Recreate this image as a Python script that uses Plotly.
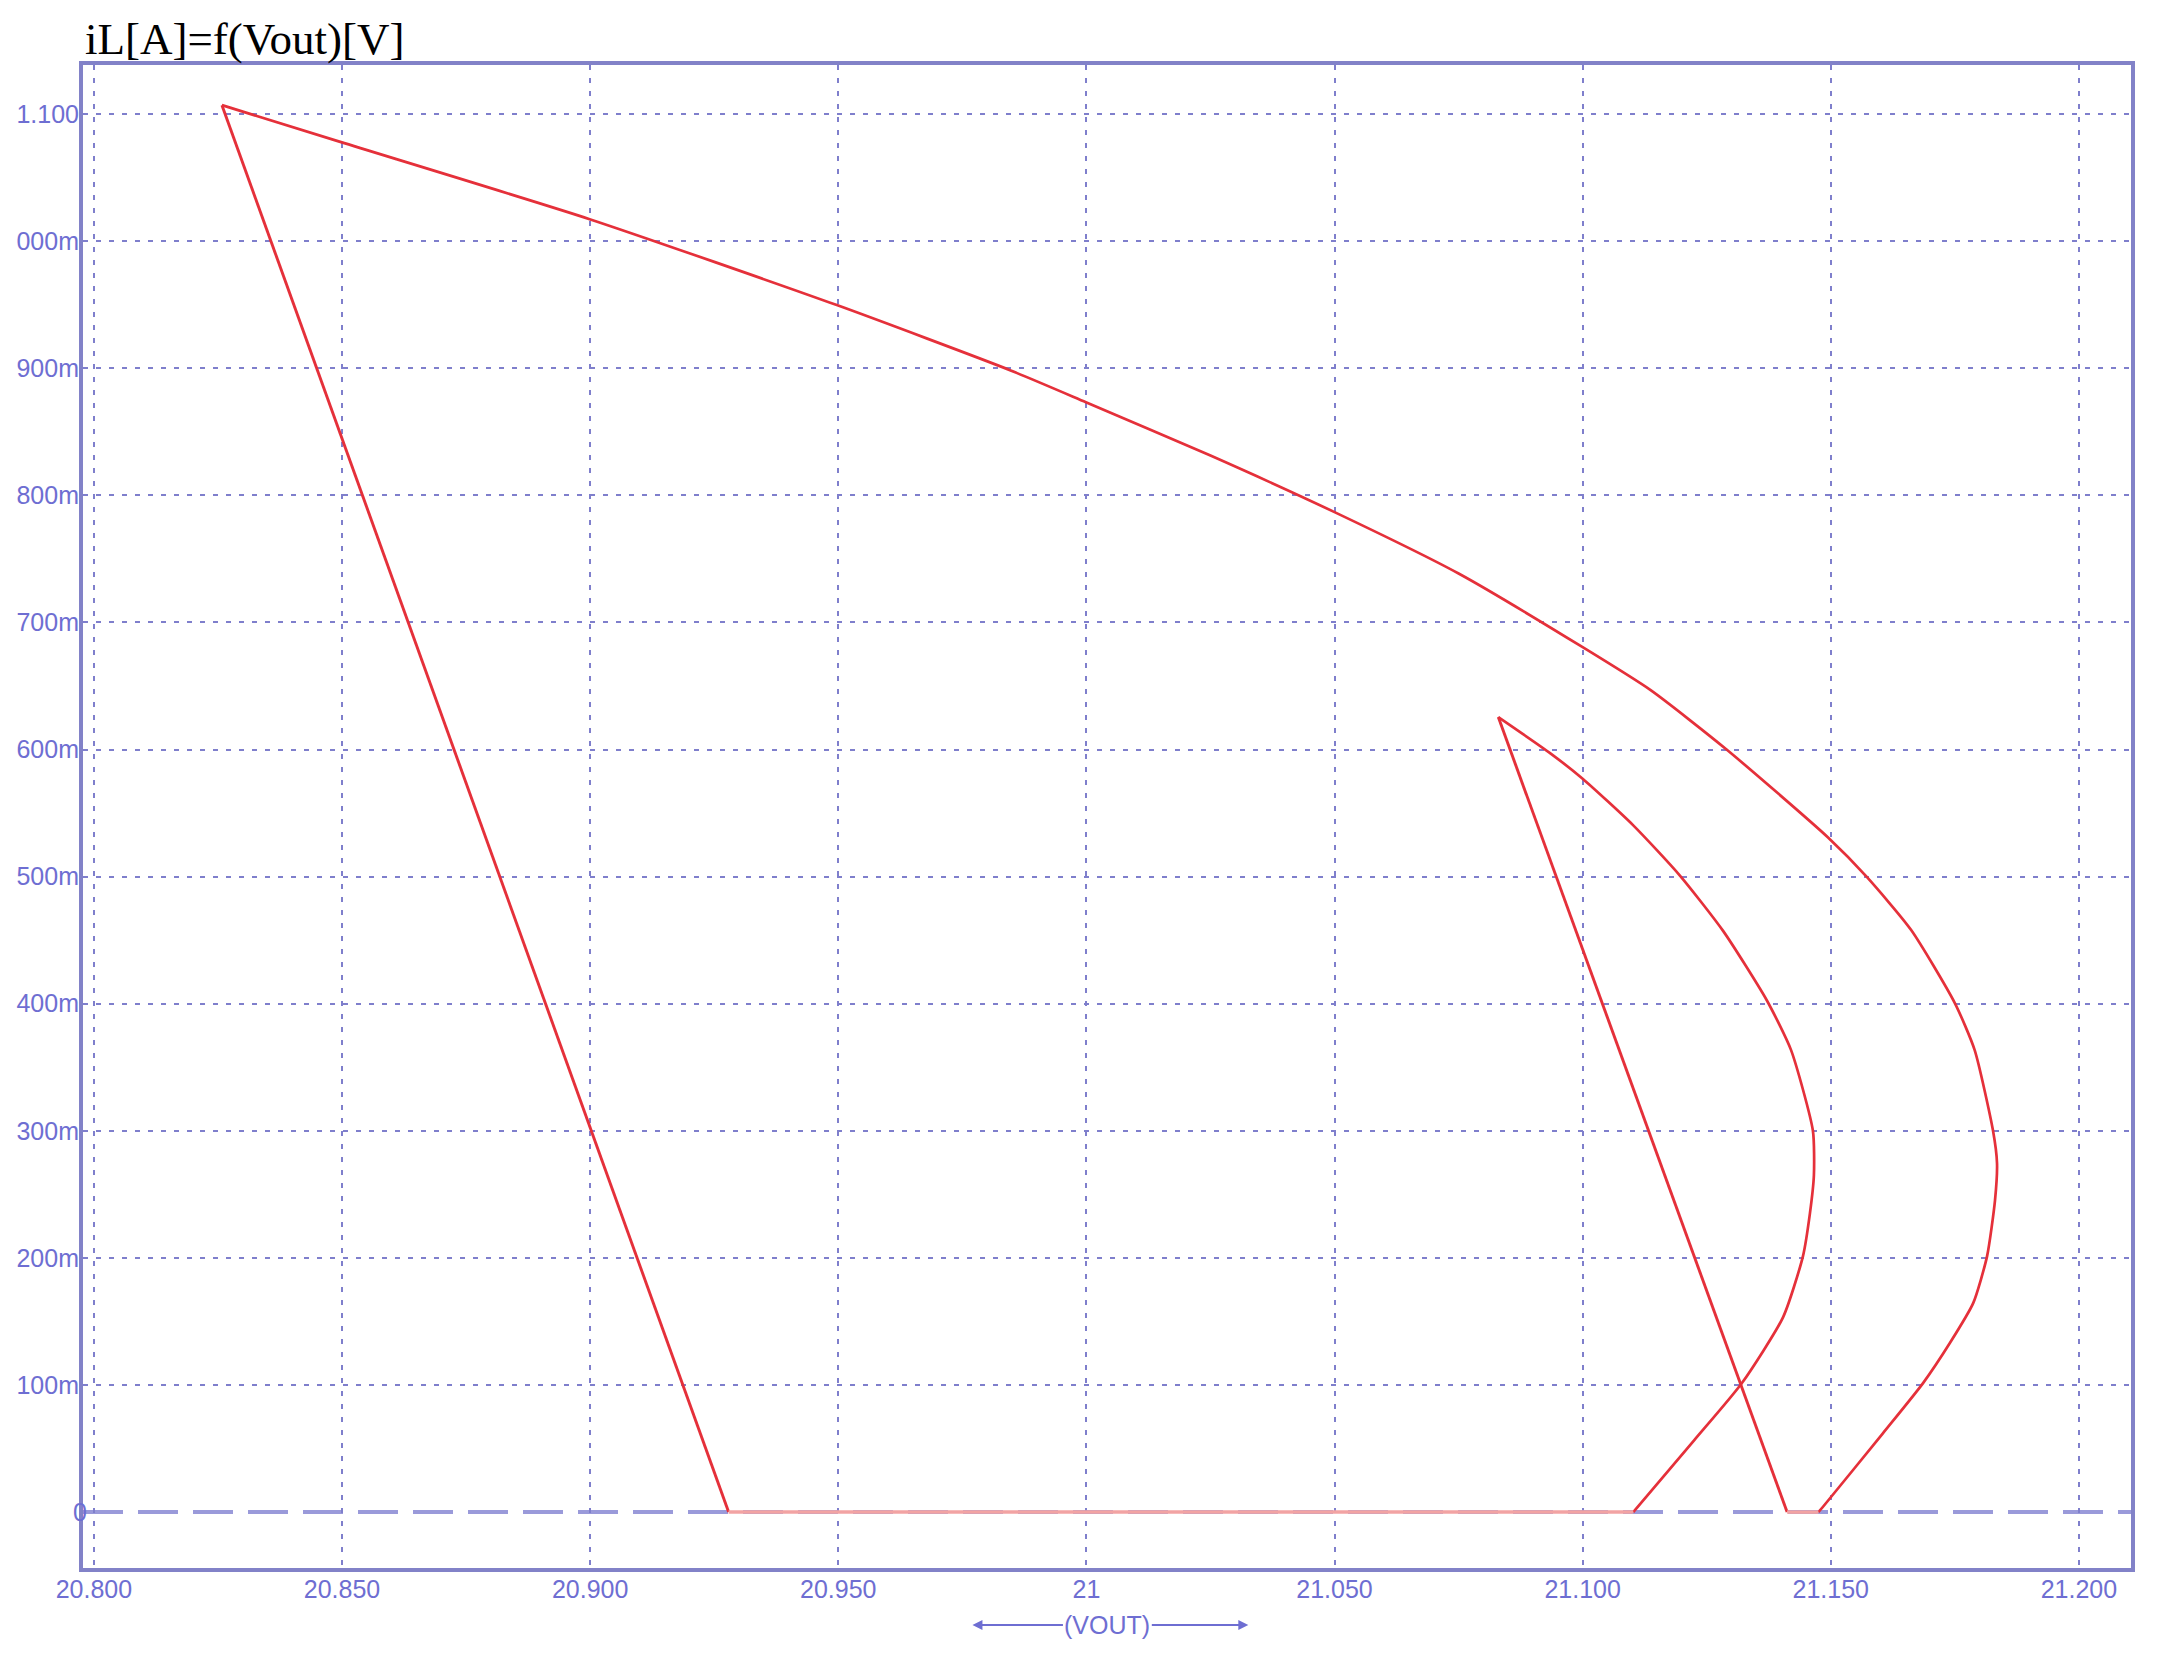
import plotly.graph_objects as go

# Straight current-rise segments (start -> peak)
rise_vout = [20.9279, 20.8258, None, 21.1412, 21.0830]
rise_il = [0.0, 1.107, None, 0.0, 0.6255]

# Outer decaying curve (from big peak down to zero)
outer_vout = [20.8258, 20.8498, 20.8999, 20.9497, 20.9846, 20.9999, 21.0250, 21.0500, 21.0750,
              21.1000, 21.1137, 21.1290, 21.1494, 21.1573, 21.1662, 21.1750, 21.1790, 21.1827,
              21.1835, 21.1831, 21.1815, 21.1787, 21.1740, 21.1686, 21.1605, 21.1484, 21.1475]
outer_il = [1.107, 1.0779, 1.0173, 0.9497, 0.8985, 0.8733, 0.8313, 0.7868, 0.7385,
            0.6805, 0.6467, 0.6000, 0.5310, 0.4996, 0.4580, 0.4005, 0.3635, 0.3000,
            0.2746, 0.2455, 0.2014, 0.1644, 0.1330, 0.1015, 0.0620, 0.0040, 0.0]

# Inner decaying curve (from small peak down to zero)
inner_vout = [21.0830, 21.0935, 21.1000, 21.1102, 21.1196, 21.1283, 21.1371, 21.1420, 21.1464,
              21.1466, 21.1458, 21.1444, 21.1404, 21.1321, 21.1225, 21.1102]
inner_il = [0.6255, 0.597, 0.577, 0.5403, 0.5008, 0.4573, 0.4027, 0.3635, 0.300,
            0.265, 0.235, 0.2014, 0.1534, 0.1015, 0.0566, 0.0]

# Zero-current segments
flat_vout = [20.9279, 21.1102, None, 21.1412, 21.1475]
flat_il = [0.0, 0.0, None, 0.0, 0.0]

x_ticks = [20.80, 20.85, 20.90, 20.95, 21.00, 21.05, 21.10, 21.15, 21.20]
x_labels = ["20.800", "20.850", "20.900", "20.950", "21", "21.050", "21.100", "21.150", "21.200"]
y_ticks = [0.1, 0.2, 0.3, 0.4, 0.5, 0.6, 0.7, 0.8, 0.9, 1.0, 1.1]
y_labels = ["100m", "200m", "300m", "400m", "500m", "600m", "700m", "800m", "900m", "000m", "1.100"]
y_zero_tick = [0]
y_zero_label = ["0"]

RED = "#e5303a"
BLUE = "#6e6ed2"
GRID = "#7f7fcc"
Y_RANGE = [-0.044, 1.1386]

fig = go.Figure()
fig.add_trace(go.Scatter(x=rise_vout, y=rise_il, mode="lines",
                         line=dict(color=RED, width=2.9)))
fig.add_trace(go.Scatter(x=outer_vout, y=outer_il, mode="lines",
                         line=dict(color=RED, width=2.7, shape="spline", smoothing=0.6)))
fig.add_trace(go.Scatter(x=inner_vout, y=inner_il, mode="lines",
                         line=dict(color=RED, width=2.7, shape="spline", smoothing=0.6)))
fig.add_trace(go.Scatter(x=flat_vout, y=flat_il, mode="lines", yaxis="y2",
                         line=dict(color="#f2a3a3", width=3.5), hoverinfo="skip"))

# long-dash zero line
fig.add_shape(type="line", xref="paper", yref="y", x0=0, x1=1, y0=0, y1=0,
              line=dict(color="#9a9ada", width=4, dash="40px,15px"), layer="between")

axis_font = dict(family="Liberation Sans, Arial", size=25, color=BLUE)

fig.update_layout(
    xaxis=dict(range=[20.7978, 21.2105], tickvals=x_ticks, ticktext=x_labels,
               showgrid=True, gridcolor=GRID, gridwidth=2, griddash="5px,8px",
               showline=True, linecolor="#8282c8", linewidth=4, mirror=True,
               zeroline=False, ticks="", tickfont=axis_font, ticklabelstandoff=-4,
               automargin=False),
    yaxis=dict(range=Y_RANGE, tickvals=y_ticks, ticktext=y_labels,
               showgrid=True, gridcolor=GRID, gridwidth=2, griddash="5px,8px",
               showline=True, linecolor="#8282c8", linewidth=4, mirror=True,
               zeroline=False, ticks="", tickfont=axis_font, ticklabelstandoff=-5,
               automargin=False),
    yaxis2=dict(range=Y_RANGE, overlaying="y", side="left", tickvals=y_zero_tick,
                ticktext=y_zero_label, showgrid=False, showline=False, zeroline=False,
                ticks="", tickfont=axis_font, ticklabelstandoff=-5, automargin=False),
)

annotations = [
    dict(text="iL[A]=f(Vout)[V]", xref="paper", yref="paper", x=0.0, y=1.0173,
         xanchor="left", yanchor="middle", showarrow=False,
         font=dict(family="Liberation Serif, Times New Roman", size=45, color="black")),
    dict(text="(VOUT)", xref="paper", yref="paper", x=0.5, y=-0.038,
         xanchor="center", yanchor="middle", showarrow=False,
         font=dict(family="Liberation Sans, Arial", size=25, color=BLUE)),
    dict(text="", xref="paper", yref="paper", x=0.4343, y=-0.038, ax=92, ay=0,
         showarrow=True, arrowhead=2, arrowsize=1, arrowwidth=2, arrowcolor=BLUE),
    dict(text="", xref="paper", yref="paper", x=0.569, y=-0.038, ax=-98, ay=0,
         showarrow=True, arrowhead=2, arrowsize=1, arrowwidth=2, arrowcolor=BLUE),
]

fig.update_layout(width=2163, height=1659, showlegend=False,
                  paper_bgcolor="white", plot_bgcolor="white",
                  margin=dict(l=75, r=40, t=57, b=99),
                  annotations=annotations)

fig.write_html("out.html")
